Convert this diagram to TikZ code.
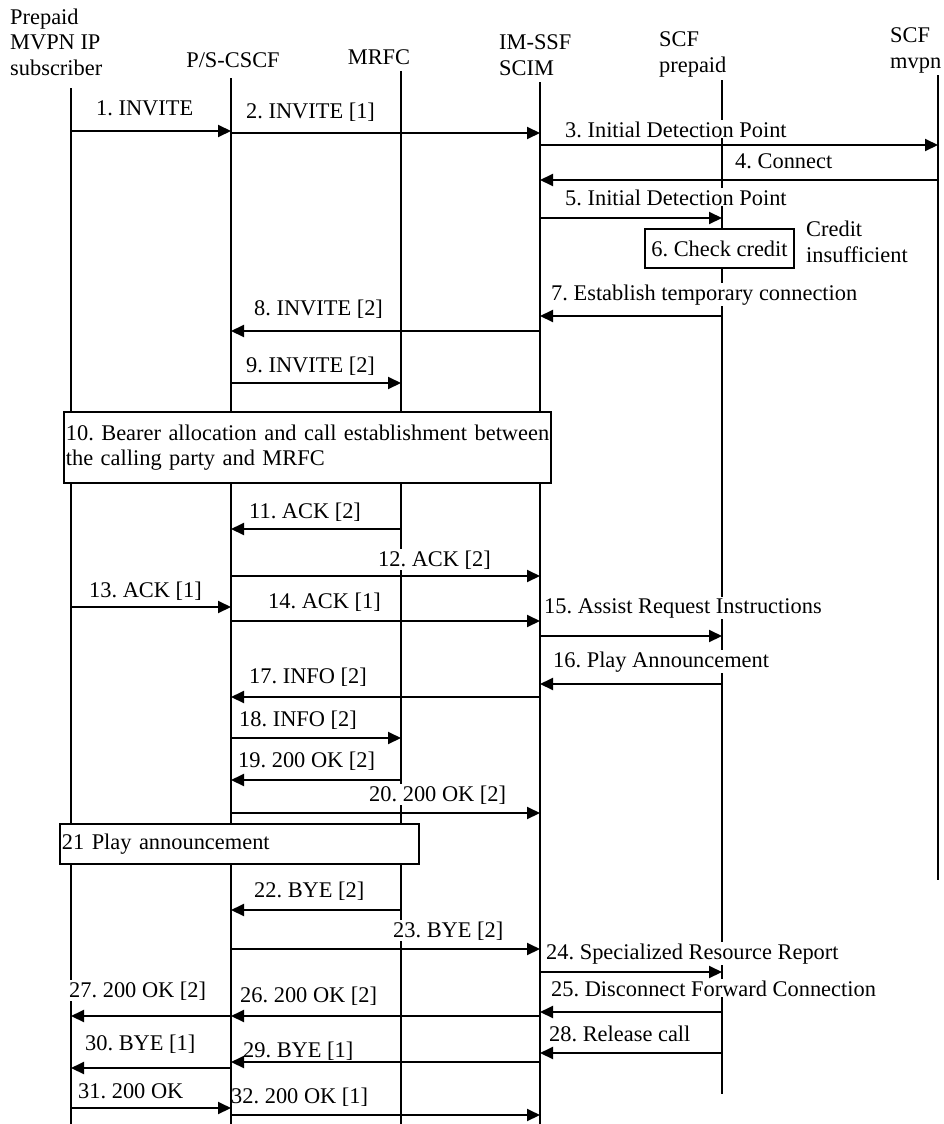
\documentclass[tikz,border=0pt]{standalone}
\usepackage{fontspec}
\setmainfont{Liberation Serif}
\usetikzlibrary{arrows.meta}
\newcommand{\seqmsg}[8][]{%
  \node[lbl,#1] (#8) at (#5,#6) {#7};
  \draw[msg] (#2 |- 0,#4) -- (#3 |- 0,#4);}
\begin{document}
\frenchspacing
\begin{tikzpicture}[x=1pt,y=-1pt,
  every node/.style={font=\fontsize{22.4}{25.5}\selectfont},
  lbl/.style={anchor=base west, fill=white, inner xsep=1pt, inner ysep=1pt},
  hdr/.style={anchor=base west, align=left, inner sep=0pt},
  life/.style={line width=1.6pt},
  msg/.style={line width=2pt,-{Triangle[length=13pt,width=12pt]}},
  box/.style={draw, line width=1.8pt, fill=white, inner sep=2pt}]
\useasboundingbox (0,0) rectangle (944,1124);
% lifeline positions
\coordinate (sub) at (71,0);
\coordinate (cscf) at (231,0);
\coordinate (mrfc) at (401,0);
\coordinate (ssf) at (540,0);
\coordinate (scfp) at (722,0);
\coordinate (scfm) at (938,0);
% headers (base = last line)
\node[hdr] (hsub) at (10,75) {Prepaid\\MVPN IP\\subscriber};
\node[anchor=base, inner sep=0pt] (hcscf) at (233,67) {P/S-CSCF};
\node[anchor=base, inner sep=0pt] (hmrfc) at (379,65) {MRFC};
\node[hdr] (hssf) at (499,75) {IM-SSF\\SCIM};
\node[hdr] (hscfp) at (659,72) {SCF\\prepaid};
\node[hdr] (hscfm) at (890,68) {SCF\\mvpn};
% lifelines
\draw[life] (sub |- 0,88) -- (sub |- 0,1124);
\draw[life] (cscf |- 0,78) -- (cscf |- 0,1124);
\draw[life] (mrfc |- 0,71) -- (mrfc |- 0,1124);
\draw[life] (ssf |- 0,82) -- (ssf |- 0,1124);
\draw[life] (scfp |- 0,80) -- (scfp |- 0,1094);
\draw[life] (scfm |- 0,75) -- (scfm |- 0,880);
% messages
\seqmsg{sub}{cscf}{131}{95}{115}{1. INVITE}{m1}
\seqmsg{cscf}{ssf}{133}{245}{118}{2. INVITE [1]}{m2}
\seqmsg{ssf}{scfm}{145}{564}{137}{3. Initial Detection Point}{m3}
\seqmsg{scfm}{ssf}{180}{734}{168}{4. Connect}{m4}
\seqmsg{ssf}{scfp}{218}{564}{205}{5. Initial Detection Point}{m5}
\node[box, minimum width=149pt, minimum height=39pt] (b6) at (719.5,248.5) {6. Check credit};
\node[hdr] (ci) at (806,262) {Credit\\insufficient};
\seqmsg{scfp}{ssf}{316}{550}{300}{7. Establish temporary connection}{m7}
\seqmsg{ssf}{cscf}{331}{253}{315}{8. INVITE [2]}{m8}
\seqmsg{cscf}{mrfc}{383}{245}{372}{9. INVITE [2]}{m9}
\node[box, anchor=north west, text width=483pt, minimum height=71pt, align=left] (b10) at (63,411)
  {\mbox{10. Bearer allocation and call establishment between}\\\mbox{the calling party and MRFC}};
\seqmsg{mrfc}{cscf}{529}{248}{518}{11. ACK [2]}{m11}
\seqmsg{cscf}{ssf}{576}{377}{566}{12. ACK [2]}{m12}
\seqmsg{sub}{cscf}{607}{88}{597}{13. ACK [1]}{m13}
\seqmsg{cscf}{ssf}{621}{267}{608}{14. ACK [1]}{m14}
\seqmsg{ssf}{scfp}{636}{543}{613}{15. Assist Request Instructions}{m15}
\seqmsg{scfp}{ssf}{684}{552}{667}{16. Play Announcement}{m16}
\seqmsg{ssf}{cscf}{697}{248}{683}{17. INFO [2]}{m17}
\seqmsg{cscf}{mrfc}{738}{238}{726}{18. INFO [2]}{m18}
\seqmsg{mrfc}{cscf}{780}{237}{767}{19. 200 OK [2]}{m19}
\seqmsg{cscf}{ssf}{813}{368}{801}{20. 200 OK [2]}{m20}
\node[box, anchor=north west, text width=355pt, minimum height=40pt, align=left] (b21) at (59,823)
  {\mbox{21 Play announcement}};
\seqmsg{mrfc}{cscf}{910}{253}{897}{22. BYE [2]}{m22}
\seqmsg{cscf}{ssf}{949}{392}{937}{23. BYE [2]}{m23}
\seqmsg{ssf}{scfp}{972}{545}{959}{24. Specialized Resource Report}{m24}
\seqmsg{scfp}{ssf}{1012}{550}{996}{25. Disconnect Forward Connection}{m25}
\seqmsg{ssf}{cscf}{1016}{239}{1002}{26. 200 OK [2]}{m26}
\seqmsg{cscf}{sub}{1016}{68}{997}{27. 200 OK [2]}{m27}
\seqmsg{scfp}{ssf}{1053}{548}{1041}{28. Release call}{m28}
\seqmsg{ssf}{cscf}{1062}{242}{1057}{29. BYE [1]}{m29}
\seqmsg{cscf}{sub}{1068}{84}{1050}{30. BYE [1]}{m30}
\seqmsg{sub}{cscf}{1108}{77}{1098}{31. 200 OK}{m31}
\seqmsg[fill=none]{cscf}{ssf}{1115}{230}{1103}{32. 200 OK [1]}{m32}
\end{tikzpicture}
\end{document}
